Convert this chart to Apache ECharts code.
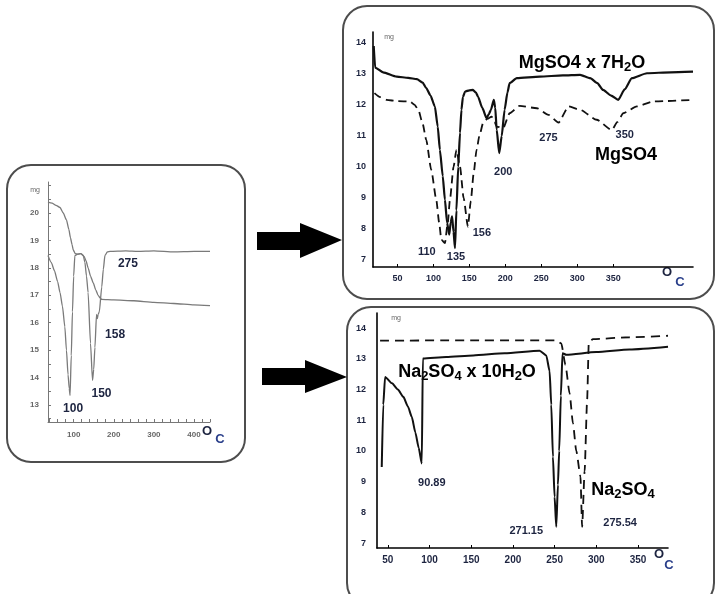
<!DOCTYPE html>
<html>
<head>
<meta charset="utf-8">
<script src="https://cdn.jsdelivr.net/npm/echarts@6/dist/echarts.min.js"></script>
<style>
  html, body { margin: 0; padding: 0; background: #fff; }
  #chart { width: 716px; height: 594px; }
</style>
</head>
<body>
<div id="chart"></div>
<script>
// left panel: both hydrates together, mass (mg) against temperature (°C)
const leftUpper = [[36, 20.4], [46, 20.36], [56, 20.28], [66, 20.2], [74, 20.0], [82, 19.75], [88, 19.4], [92, 19.1], [96, 18.85], [99, 18.65], [104, 18.52], [110, 18.5], [118, 18.52], [126, 18.42], [131, 18.25], [136, 18.0], [142, 17.7], [149, 17.45], [155, 17.2], [161, 17.0], [166, 16.9], [170, 16.85], [200, 16.83], [250, 16.8], [300, 16.74], [350, 16.7], [400, 16.65], [440, 16.62]];
const leftLower = [[36, 18.45], [44, 18.2], [52, 17.9], [60, 17.5], [66, 17.1], [72, 16.6], [78, 15.85], [82, 15.0], [86, 14.1], [89, 13.6], [91, 13.35], [94, 14.8], [97, 16.4], [100, 17.7], [103, 18.45], [110, 18.5], [118, 18.52], [124, 18.45], [128, 18.2], [132, 17.7], [136, 17.1], [142, 15.25], [147, 13.9], [150, 14.3], [153, 15.1], [157, 16.3], [159, 16.15], [161, 16.3], [164, 16.4], [170, 17.3], [174, 17.95], [178, 18.45], [184, 18.58], [191, 18.6], [230, 18.62], [260, 18.6], [300, 18.62], [350, 18.58], [400, 18.6], [440, 18.6]];
const leftPeaks = [[91, 13.35, '100'], [147, 13.9, '150'], [161, 16.3, '158'], [178, 18.45, '275']];
const leftXLabels = [100, 200, 300, 400];
const leftXTicks = [40, 60, 80, 100, 120, 140, 160, 180, 200, 220, 240, 260, 280, 300, 320, 340, 360, 380, 400, 420, 440];
const leftYLabels = [13, 14, 15, 16, 17, 18, 19, 20];
const leftYTicks = [12.5, 13, 13.5, 14, 14.5, 15, 15.5, 16, 16.5, 17, 17.5, 18, 18.5, 19, 19.5, 20, 20.5, 21];

// top right: MgSO4 x 7H2O (solid) and MgSO4 (dashed)
const mgHydrate = [[17, 13.9], [19, 13.2], [30, 13.05], [49, 12.91], [65, 12.87], [77, 12.83], [85, 12.72], [90, 12.54], [96, 12.3], [102, 11.95], [106, 11.3], [109, 10.55], [113, 9.7], [116, 8.94], [119, 8.2], [122, 7.81], [124, 8.2], [126, 8.4], [128, 7.9], [130, 7.38], [132, 8.6], [134.5, 10.0], [137, 11.1], [139, 11.84], [141, 12.25], [144, 12.43], [150, 12.47], [155, 12.48], [159, 12.4], [162, 12.27], [168, 11.9], [174, 11.57], [177, 11.7], [180, 11.84], [184, 12.16], [186, 11.9], [188, 11.2], [191.5, 10.44], [195, 11.0], [199, 11.84], [203, 12.4], [206, 12.7], [216, 12.86], [248, 12.91], [280, 12.95], [304, 12.97], [318, 12.86], [328, 12.7], [336, 12.48], [347, 12.3], [357, 12.16], [366, 12.5], [376, 12.86], [397, 13.02], [430, 13.05], [461, 13.07]];
const mgAnhydrous = [[18, 12.38], [26, 12.25], [35, 12.16], [50, 12.12], [67, 12.11], [74, 12.0], [79, 11.84], [85, 11.4], [90, 10.87], [97, 9.9], [104, 8.94], [108, 8.2], [111, 7.65], [116, 7.54], [120, 8.2], [123, 8.94], [128, 10.0], [132, 10.55], [137, 10.0], [142, 9.0], [148, 8.07], [152, 8.9], [156, 9.8], [160, 10.55], [164, 11.0], [169, 11.41], [175, 11.55], [181, 11.62], [185, 11.45], [188, 11.3], [197, 11.25], [206, 11.73], [220, 11.97], [244, 11.89], [260, 11.68], [274, 11.43], [288, 11.95], [304, 11.84], [327, 11.52], [348, 11.19], [356, 11.45], [364, 11.73], [383, 11.95], [406, 12.11], [461, 12.16]];
const mgHydratePeaks = [[130, 7.38, '135'], [191.5, 10.44, '200']];
const mgAnhydrousPeaks = [[113, 7.55, '110'], [148, 8.07, '156'], [274, 11.43, '275'], [348, 11.19, '350']];
const mgXLabels = [50, 100, 150, 200, 250, 300, 350];
const mgYLabels = [7, 8, 9, 10, 11, 12, 13, 14];

// bottom right: Na2SO4 x 10H2O (solid) and Na2SO4 (dashed)
const naHydrate = [[42.7, 9.48], [44.5, 11.5], [46.7, 12.41], [55, 12.2], [62, 12.0], [68.6, 11.76], [74, 11.45], [78.7, 11.11], [83, 10.6], [87, 10.1], [90.7, 9.59], [92, 13.01], [120, 13.06], [152.5, 13.11], [190, 13.18], [232, 13.26], [240, 13.11], [244, 12.6], [246, 11.5], [248, 9.81], [250, 8.5], [252, 7.53], [254, 8.9], [255.5, 10.0], [257.5, 11.8], [259.5, 13.18], [264, 13.13], [300, 13.22], [340, 13.3], [386, 13.39]];
const naAnhydrous = [[40.7, 13.59], [150, 13.6], [252, 13.6], [258, 13.5], [263, 12.8], [268, 11.87], [272, 10.9], [276, 10.0], [281, 9.17], [283, 7.53], [286, 9.34], [289, 11.65], [291, 13.53], [296, 13.64], [340, 13.7], [386, 13.75]];
const naHydratePeaks = [[90.7, 9.59, '90.89'], [252, 7.53, '271.15']];
const naAnhydrousPeaks = [[283, 7.53, '275.54']];
const naXLabels = [50, 100, 150, 200, 250, 300, 350];
const naYLabels = [7, 8, 9, 10, 11, 12, 13, 14];

const FONT = '"Liberation Sans", Arial, sans-serif';
const INK = '#1d2440';

function peakMarks(peaks, offsets, size, color) {
  return {
    symbol: 'circle',
    symbolSize: 0,
    silent: true,
    label: { show: true, position: 'inside', color: color, fontFamily: FONT, fontWeight: 'bold', fontSize: size },
    data: peaks.map((p, i) => ({ coord: [p[0], p[1]], label: { formatter: p[2], offset: offsets[i] } })),
  };
}

function xAxisFor(grid, min, max, labels, ticks, color, size, margin) {
  return {
    type: 'value', gridIndex: grid, min: min, max: max,
    splitLine: { show: false },
    axisLine: { lineStyle: { color: color, width: grid === 0 ? 1 : 1.6 } },
    axisTick: { show: true, inside: true, length: 3, customValues: ticks, lineStyle: { color: color } },
    axisLabel: { customValues: labels, color: color === '#000' ? INK : '#666', fontFamily: FONT, fontWeight: 'bold', fontSize: size, margin: margin },
  };
}

function yAxisFor(grid, min, max, labels, ticks, color, size, margin) {
  return {
    type: 'value', gridIndex: grid, min: min, max: max,
    splitLine: { show: false },
    axisLine: { show: true, lineStyle: { color: color, width: grid === 0 ? 1 : 1.6 } },
    axisTick: { show: grid === 0, inside: true, length: 3, customValues: ticks, lineStyle: { color: color } },
    axisLabel: { customValues: labels, color: color === '#000' ? INK : '#666', fontFamily: FONT, fontWeight: 'bold', fontSize: size, margin: margin },
  };
}

function line(grid, data, color, width, type, marks) {
  return {
    type: 'line', xAxisIndex: grid, yAxisIndex: grid, data: data,
    showSymbol: false, smooth: 0.2, smoothMonotone: 'x', silent: true,
    lineStyle: { color: color, width: width, type: type },
    markPoint: marks,
  };
}

const bigRich = {
  a: { fontFamily: FONT, fontWeight: 'bold', fontSize: 18, color: INK, lineHeight: 21 },
  s: { fontFamily: FONT, fontWeight: 'bold', fontSize: 13, color: INK, lineHeight: 12, verticalAlign: 'bottom' },
};

function frame(x, y, w, h) {
  return { type: 'rect', shape: { x: x, y: y, width: w, height: h, r: 24 }, style: { fill: 'none', stroke: '#4d4d4d', lineWidth: 2 }, silent: true };
}
function arrow(points) {
  return { type: 'polygon', shape: { points: points }, style: { fill: '#000' }, silent: true };
}
function label(x, y, text, rich) {
  return { type: 'text', x: x, y: y, silent: true, style: { text: text, rich: rich, align: 'center', verticalAlign: 'middle' } };
}
function plain(x, y, text, font, fill) {
  return { type: 'text', x: x, y: y, silent: true, style: { text: text, fill: fill, font: font, align: 'center', verticalAlign: 'middle' } };
}
// the "°C" unit is drawn as a raised O followed by a lowered C
function degC(ox, oy, cx, cy) {
  return [
    plain(ox, oy, 'O', 'bold 13px ' + FONT, INK),
    plain(cx, cy, 'C', 'bold 13px ' + FONT, '#2a3f8a'),
  ];
}

const chart = echarts.init(document.getElementById('chart'));
chart.setOption({
  animation: false,
  backgroundColor: '#fff',
  grid: [
    { left: 48, top: 182, width: 162, height: 240 },
    { left: 373, top: 32, width: 320, height: 235 },
    { left: 377, top: 313, width: 291, height: 235 },
  ],
  xAxis: [
    xAxisFor(0, 36, 440, leftXLabels, leftXTicks, '#777', 8, 9),
    xAxisFor(1, 16, 461, mgXLabels, mgXLabels, '#000', 9, 7),
    xAxisFor(2, 37, 386, naXLabels, naXLabels, '#000', 10, 7),
  ],
  yAxis: [
    yAxisFor(0, 12.38, 21.13, leftYLabels, leftYTicks, '#777', 8, 9),
    yAxisFor(1, 6.77, 14.35, mgYLabels, mgYLabels, '#000', 9, 7),
    yAxisFor(2, 6.84, 14.49, naYLabels, naYLabels, '#000', 9, 11),
  ],
  series: [
    line(0, leftUpper, '#7a7a7a', 1.3, 'solid'),
    line(0, leftLower, '#7a7a7a', 1.3, 'solid', peakMarks(leftPeaks, [[3, 13], [9, 13], [17, 20], [23, 8]], 12, INK)),
    line(1, mgHydrate, '#111', 2.2, 'solid', peakMarks(mgHydratePeaks, [[1, 9], [4, 19]], 11, INK)),
    line(1, mgAnhydrous, '#111', 1.8, [8, 5], peakMarks(mgAnhydrousPeaks, [[-16, 9], [14, 6], [-10, 15], [13, 5]], 11, INK)),
    line(2, naHydrate, '#111', 2, 'solid', peakMarks(naHydratePeaks, [[10, 19], [-30, 4]], 11, INK)),
    line(2, naAnhydrous, '#111', 1.8, [9, 6], peakMarks(naAnhydrousPeaks, [[38, -4]], 11, INK)),
  ],
  graphic: [
    frame(7, 165, 238, 297),
    frame(343, 6, 371, 293),
    frame(347, 307, 367, 300),
    arrow([[257, 232], [300, 232], [300, 223], [342, 240], [300, 258], [300, 250], [257, 250]]),
    arrow([[262, 368], [305, 368], [305, 360], [347, 377], [305, 393], [305, 385], [262, 385]]),
    label(582, 63, '{a|MgSO4 x 7H}{s|2}{a|O}', bigRich),
    label(626, 155, '{a|MgSO4}', bigRich),
    label(467, 372, '{a|Na}{s|2}{a|SO}{s|4}{a| x 10H}{s|2}{a|O}', bigRich),
    label(623, 490, '{a|Na}{s|2}{a|SO}{s|4}', bigRich),
    ...degC(207, 431, 220, 439),
    ...degC(667, 272, 680, 282),
    ...degC(659, 554, 669, 565),
    plain(35, 190, 'mg', '7px ' + FONT, '#666'),
    plain(389, 37, 'mg', '7px ' + FONT, '#666'),
    plain(396, 318, 'mg', '7px ' + FONT, '#666'),
  ],
});
</script>
</body>
</html>
